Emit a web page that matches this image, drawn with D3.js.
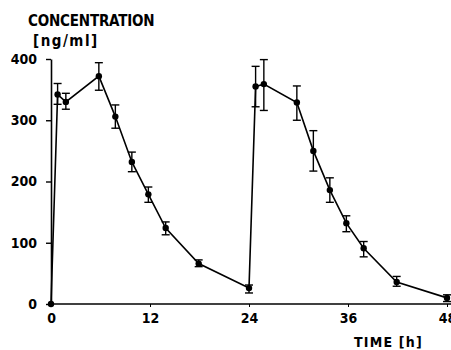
<!DOCTYPE html>
<html>
<head>
<meta charset="utf-8">
<script src="https://cdn.jsdelivr.net/npm/d3@7"></script>
<style>
  body { margin: 0; background: #fff; }
  text { font-family: "DejaVu Sans Condensed", "DejaVu Sans", sans-serif; font-weight: bold; fill: #000; }
</style>
</head>
<body>
<svg id="chart" width="451" height="350"></svg>
<script>
// sampling times (h) and mean concentration (ng/ml) with error half-widths
const times = [0, 0.8, 1.8, 5.8, 7.8, 9.8, 11.8, 13.9, 17.9, 24, 24.8, 25.8, 29.8, 31.8, 33.8, 35.8, 37.9, 41.9, 48];
const conc  = [0, 342, 330, 372, 306, 232, 179, 124, 66, 26, 355, 359, 329, 250, 186, 132, 91, 36, 10];
const errUp = [0, 18, 14, 22, 19, 16, 12, 10, 6, 5, 33, 40, 27, 33, 20, 12, 11, 9, 5];
const errDn = [0, 16, 12, 23, 19, 16, 13, 11, 5, 8, 33, 43, 29, 33, 20, 14, 14, 7, 6];
const xTicks = [0, 12, 24, 36, 48];
const yTicks = [0, 100, 200, 300, 400];

const data = times.map((t, i) => ({ t: t, c: conc[i], hi: conc[i] + errUp[i], lo: conc[i] - errDn[i] }));

const svg = d3.select("#chart");
const x = d3.scaleLinear().domain([0, 48]).range([51, 447]);
const y = d3.scaleLinear().domain([0, 400]).range([304, 59]);

// axes
const xAxis = svg.append("g")
    .attr("transform", `translate(0, ${y(0)})`)
    .call(d3.axisBottom(x).tickValues(xTicks).tickSize(3).tickSizeOuter(0));
xAxis.select(".domain").attr("d", `M${x(0)},0H451`).attr("stroke-width", 1.6);
xAxis.selectAll("text").attr("dy", "0.95em").style("font-size", "14px")
    .style("font-family", "DejaVu Sans Condensed, sans-serif");

const yAxis = svg.append("g")
    .attr("transform", `translate(${x(0)}, 0)`)
    .call(d3.axisLeft(y).tickValues(yTicks).tickSize(5).tickSizeOuter(0).tickPadding(9));
yAxis.select(".domain").attr("stroke-width", 1.6);
yAxis.selectAll(".tick line").attr("stroke-width", 1.4);
yAxis.selectAll("text").style("font-size", "14px")
    .style("font-family", "DejaVu Sans Condensed, sans-serif");

// axis titles
svg.append("text").attr("x", 28).attr("y", 26)
    .style("font-size", "15px").style("letter-spacing", "-0.2px")
    .text("CONCENTRATION");
svg.append("text").attr("x", 33).attr("y", 46)
    .style("font-size", "15px").style("letter-spacing", "1.5px")
    .text("[ng/ml]");
svg.append("text").attr("x", 354).attr("y", 347)
    .style("font-size", "14px").style("letter-spacing", "1.2px")
    .text("TIME  [h]");

// connecting line
svg.append("path")
    .datum(data)
    .attr("fill", "none")
    .attr("stroke", "#000")
    .attr("stroke-width", 1.6)
    .attr("d", d3.line().x(d => x(d.t)).y(d => y(d.c)));

// error bars
const bars = svg.append("g").selectAll("g")
    .data(data.filter(d => d.c > 0))
    .join("g")
    .attr("stroke", "#000")
    .attr("stroke-width", 1.4);
bars.append("line")
    .attr("x1", d => x(d.t)).attr("x2", d => x(d.t))
    .attr("y1", d => y(d.hi)).attr("y2", d => y(d.lo));
bars.append("line")
    .attr("x1", d => x(d.t) - 4).attr("x2", d => x(d.t) + 4)
    .attr("y1", d => y(d.hi)).attr("y2", d => y(d.hi));
bars.append("line")
    .attr("x1", d => x(d.t) - 4).attr("x2", d => x(d.t) + 4)
    .attr("y1", d => y(d.lo)).attr("y2", d => y(d.lo));

// markers
svg.append("g").selectAll("circle")
    .data(data)
    .join("circle")
    .attr("cx", d => x(d.t))
    .attr("cy", d => y(d.c))
    .attr("r", 3.2)
    .attr("fill", "#000");
</script>
</body>
</html>
